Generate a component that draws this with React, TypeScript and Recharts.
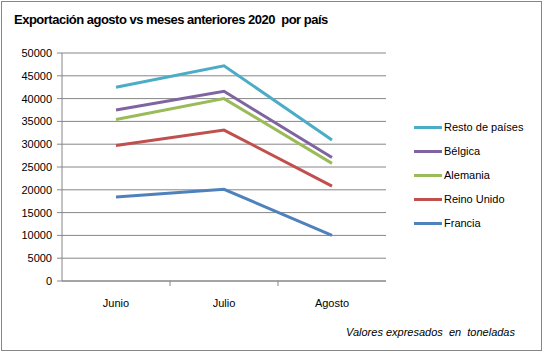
import React from 'react';
import { LineChart, Line, XAxis, YAxis, CartesianGrid } from 'recharts';

const MONTHS = ['Junio', 'Julio', 'Agosto'];
const RESTO = [42500, 47200, 30900];
const BELGICA = [37500, 41600, 27100];
const ALEMANIA = [35400, 40000, 25800];
const REINO_UNIDO = [29700, 33100, 20800];
const FRANCIA = [18400, 20100, 10000];
const Y_TICKS = [0, 5000, 10000, 15000, 20000, 25000, 30000, 35000, 40000, 45000, 50000];

const SERIES = [
  { key: 'resto', name: 'Resto de países', color: '#4BACC6', values: RESTO },
  { key: 'belgica', name: 'Bélgica', color: '#8064A2', values: BELGICA },
  { key: 'alemania', name: 'Alemania', color: '#9BBB59', values: ALEMANIA },
  { key: 'reino', name: 'Reino Unido', color: '#C0504D', values: REINO_UNIDO },
  { key: 'francia', name: 'Francia', color: '#4F81BD', values: FRANCIA },
];

const data = MONTHS.map((m, i) => {
  const row: any = { month: m };
  SERIES.forEach((s) => (row[s.key] = s.values[i]));
  return row;
});

const FONT = 'Liberation Sans, Arial, sans-serif';
const PLOT_LEFT = 62;
const PLOT_RIGHT = 386;
const BAND = (PLOT_RIGHT - PLOT_LEFT) / MONTHS.length;

const XTick = (props: any) => {
  const { x, y, payload, index } = props;
  return (
    <g>
      {index < MONTHS.length - 1 && (
        <line x1={x + BAND / 2} x2={x + BAND / 2} y1={y - 8} y2={y - 3} stroke="#868686" />
      )}
      <text x={x} y={y + 18} textAnchor="middle" fontSize={11} fill="#000" fontFamily={FONT}>
        {payload.value}
      </text>
    </g>
  );
};

const App = () => {
  return (
    <div style={{ position: 'relative', width: 543, height: 352, background: '#fff' }}>
      <style>{'body{margin:0}'}</style>
      <div
        style={{
          position: 'absolute',
          left: 1,
          top: 1,
          width: 539,
          height: 348,
          border: '1px solid #868686',
          pointerEvents: 'none',
        }}
      />
      <div
        style={{
          position: 'absolute',
          left: 14,
          top: 12,
          fontFamily: FONT,
          fontWeight: 'bold',
          fontSize: 13,
          letterSpacing: -0.5,
          color: '#000',
          whiteSpace: 'pre',
        }}
      >
        Exportación agosto vs meses anteriores 2020  por país
      </div>
      <div
        style={{
          position: 'absolute',
          left: 346,
          top: 326,
          fontFamily: FONT,
          fontStyle: 'italic',
          fontSize: 11,
          color: '#000',
          whiteSpace: 'pre',
        }}
      >
        Valores expresados  en  toneladas
      </div>
      <div
        style={{
          position: 'absolute',
          left: 414,
          top: 115,
          fontFamily: FONT,
          fontSize: 11,
          color: '#000',
        }}
      >
        {SERIES.map((s) => (
          <div key={s.key} style={{ display: 'flex', alignItems: 'center', height: 24 }}>
            <div style={{ width: 28, height: 3, background: s.color, marginRight: 2 }} />
            <span>{s.name}</span>
          </div>
        ))}
      </div>
      <LineChart
        width={543}
        height={352}
        data={data}
        margin={{ top: 53, right: 543 - PLOT_RIGHT, bottom: 0, left: 0 }}
      >
        <CartesianGrid vertical={false} stroke="#868686" />
        <XAxis
          dataKey="month"
          stroke="#868686"
          tickLine={false}
          tick={<XTick />}
          height={71}
          padding={{ left: BAND / 2, right: BAND / 2 }}
          interval={0}
        />
        <YAxis
          domain={[0, 50000]}
          ticks={Y_TICKS}
          width={PLOT_LEFT}
          stroke="#868686"
          tickSize={5}
          tick={{ fontSize: 11, fill: '#000', fontFamily: FONT, dx: -3 }}
          interval={0}
        />
        {SERIES.map((s) => (
          <Line
            key={s.key}
            dataKey={s.key}
            name={s.name}
            stroke={s.color}
            strokeWidth={3}
            dot={false}
            activeDot={false}
            isAnimationActive={false}
          />
        ))}
      </LineChart>
    </div>
  );
};

export default App;
